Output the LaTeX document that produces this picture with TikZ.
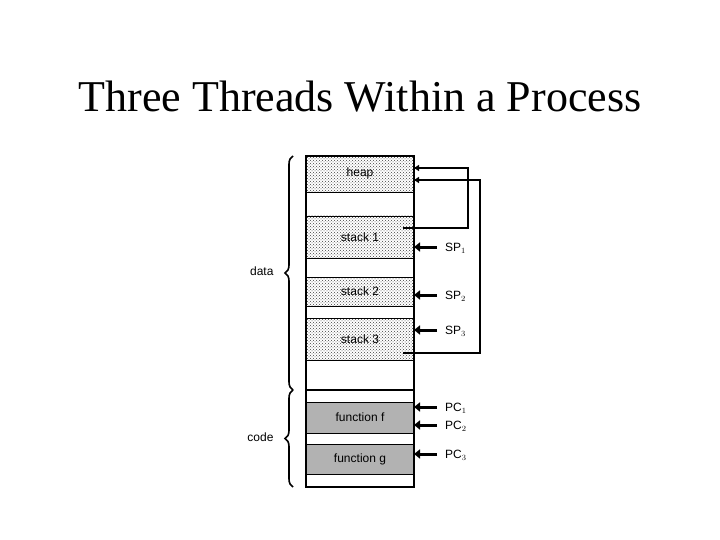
\documentclass[tikz,border=0pt]{standalone}
\usepackage{fontspec}
\setmainfont{Liberation Serif}
\newfontfamily\lab{Liberation Sans}
\usetikzlibrary{patterns,decorations.pathreplacing,arrows.meta}
\begin{document}
\begin{tikzpicture}[x=1pt,y=-1pt,
  seg/.style={draw=black,line width=0.6pt},
  dotseg/.style={seg,pattern=crosshatch dots,pattern color=black!75},
  grayseg/.style={seg,fill=black!30},
  lbl/.style={font=\lab\fontsize{12}{14}\selectfont},
  ptr/.style={line width=3pt,-{Triangle[length=6pt,width=9pt]}},
  loop/.style={line width=1.8pt,-{Triangle[length=5pt,width=6pt]}},
  br/.style={decorate,decoration={brace,amplitude=8pt},line width=1.6pt}]
\useasboundingbox (0,0) rectangle (720,540);
\node[font=\fontsize{44}{50}\selectfont] (title) at (360,97) {Three Threads Within a Process};
% segments
\path[dotseg] (306,156) rectangle (414,192);
\path[dotseg] (306,216) rectangle (414,258);
\path[dotseg] (306,277) rectangle (414,306);
\path[dotseg] (306,318) rectangle (414,360);
\path[grayseg] (306,402) rectangle (414,433);
\path[grayseg] (306,444) rectangle (414,474);
\draw[line width=2.4pt] (306,156) rectangle (414,487);
\draw[line width=2.4pt] (306,390) -- (414,390);
\node[lbl] (heap) at (360,173) {heap};
\node[lbl] (s1) at (360,237) {stack 1};
\node[lbl] (s2) at (360,291) {stack 2};
\node[lbl] (s3) at (360,339) {stack 3};
\node[lbl] (ff) at (360,417) {function f};
\node[lbl] (fg) at (360,459) {function g};
% loops
\coordinate (a1) at (403,228);
\coordinate (h1) at (414,168);
\coordinate (a3) at (403,353);
\coordinate (h3) at (414,180);
\draw[loop] (a1) -- (468,228) -- (468,168) -- (h1);
\draw[loop] (a3) -- (480,353) -- (480,180) -- (h3);
% pointers
\foreach \n/\y/\t in {sp1/247/SP$_1$,sp2/295/SP$_2$,sp3/330/SP$_3$,pc1/407/PC$_1$,pc2/425/PC$_2$,pc3/454/PC$_3$}{
  \node[lbl,anchor=base west,inner sep=0pt] (\n) at (445,\y+4.5) {\lab\t};
  \coordinate (\n s) at (437,\y);
  \coordinate (\n t) at (414,\y);
  \draw[ptr] (\n s) -- (\n t);
}
% braces
\coordinate (d1) at (293,390);
\coordinate (d2) at (293,156);
\coordinate (c1) at (293,487);
\coordinate (c2) at (293,390);
\draw[br] (d1) -- (d2);
\draw[br] (c1) -- (c2);
\node[lbl,anchor=east] (data) at (277,271) {data};
\node[lbl,anchor=east] (code) at (277,437) {code};
\end{tikzpicture}
\end{document}
